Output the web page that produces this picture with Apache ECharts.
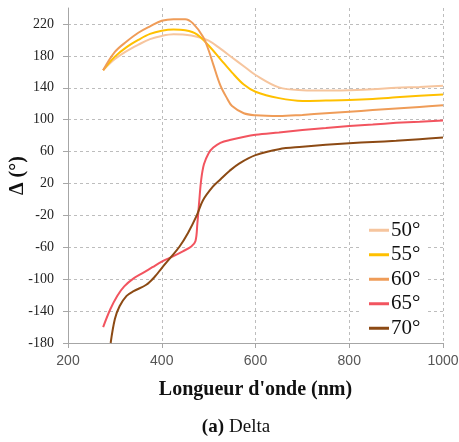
<!DOCTYPE html>
<html>
<head>
<meta charset="utf-8">
<script src="https://cdn.jsdelivr.net/npm/echarts@6/dist/echarts.min.js"></script>
<style>
  html, body { margin: 0; padding: 0; background: #fff; }
  #main { width: 459px; height: 442px; }
</style>
</head>
<body>
<div id="main"></div>
<script>
var legendNames = ['50°', '55°', '60°', '65°', '70°'];
var colors = ['#F6C59E', '#FFC000', '#EF9C58', '#F2545F', '#8C4A14'];
var yTicks = [-180, -140, -100, -60, -20, 20, 60, 100, 140, 180, 220];

var wlA = [275, 300, 325, 350, 375, 400, 425, 450, 475, 500, 525, 550, 575, 600, 650, 700, 750, 800, 850, 900, 950, 1000];
var d50 = [162, 176, 186, 194, 201, 205, 207, 206.5, 204, 199, 189, 178, 167, 156, 140.5, 137, 136.5, 137, 138, 140, 141, 142.5];
var d55 = [162, 179, 191, 200, 207.5, 211.5, 213, 212, 207, 193, 176, 159, 144, 135, 127, 123.5, 124, 124.7, 126, 128, 130, 131.5];

var wl60 = [275, 300, 325, 350, 375, 400, 425, 450, 466, 488, 500, 510, 525, 540, 550, 575, 600, 650, 700, 750, 800, 850, 900, 950, 1000];
var d60 = [162, 185, 198, 209, 217, 224, 226, 226, 221, 204, 187, 169, 143, 126, 117, 108, 105.5, 104.5, 106, 108, 110, 112, 114, 116, 118];

var wl65 = [275, 290, 305, 320, 340, 360, 380, 400, 425, 445, 463, 472, 476, 480, 484, 490, 500, 510, 525, 545, 600, 650, 700, 750, 800, 850, 900, 950, 1000];
var d65 = [-160, -138, -121, -109, -99, -92, -85, -78, -71, -65, -59, -52, -30, -2, 24, 44, 58, 65, 71, 74.5, 81, 84, 87, 89.5, 92, 94, 96, 97.5, 99];

var wl70 = [291, 300, 310, 325, 340, 367, 385, 400, 420, 438, 456, 474, 488, 509, 525, 545, 565, 600, 650, 700, 750, 800, 850, 900, 950, 1000];
var d70 = [-180, -150, -134, -121, -115, -107, -97, -86, -72, -59, -42, -21, -1, 16, 25, 36, 45, 55.5, 63, 66, 68.5, 70.5, 72, 73.5, 75.5, 77.5];

function pairs(xs, ys) {
    return xs.map(function (x, i) { return [x, ys[i]]; });
}

var seriesData = [pairs(wlA, d50), pairs(wlA, d55), pairs(wl60, d60), pairs(wl65, d65), pairs(wl70, d70)];

var myChart = echarts.init(document.getElementById('main'));
var serif = '"Liberation Serif", "DejaVu Serif", serif';

var option = {
    animation: false,
    backgroundColor: '#fff',
    color: colors,
    title: {
        text: '{b|(a)} {r|Delta}',
        left: 236,
        top: 418,
        textAlign: 'center',
        padding: 0,
        textStyle: {
            fontWeight: 'normal',
            rich: {
                b: { fontFamily: serif, fontSize: 19, fontWeight: 'bold', color: '#111' },
                r: { fontFamily: serif, fontSize: 19, fontWeight: 'normal', color: '#111' }
            }
        }
    },
    legend: {
        orient: 'vertical',
        left: 362,
        top: 216,
        padding: [2, 6, 2, 7],
        backgroundColor: '#fff',
        itemGap: 0,
        itemWidth: 20,
        itemHeight: 3,
        icon: 'rect',
        data: legendNames,
        textStyle: { fontFamily: serif, fontSize: 21, color: '#111', lineHeight: 24.5, padding: [0, 0, 0, -3] }
    },
    grid: { left: 68, right: 16, top: 8, bottom: 99, outerBoundsMode: 'none', containLabel: false },
    xAxis: {
        type: 'value',
        min: 200,
        max: 1000,
        interval: 200,
        name: "Longueur d'onde (nm)",
        nameLocation: 'middle',
        nameGap: 37,
        nameMoveOverlap: false,
        nameTextStyle: { fontFamily: serif, fontSize: 20, fontWeight: 'bold', color: '#111' },
        axisLine: { onZero: false, lineStyle: { color: '#a6a6a6', width: 1 } },
        axisTick: { show: true, length: 5, lineStyle: { color: '#a6a6a6' } },
        axisLabel: {
            fontFamily: '"Liberation Sans", Arial, sans-serif', fontSize: 14, color: '#555', margin: 11,
            formatter: function (v) { return String(v); }
        },
        splitLine: { show: true, lineStyle: { color: '#bdbdbd', type: [3, 3], width: 1 } }
    },
    yAxis: {
        type: 'value',
        min: -180,
        max: 240,
        name: 'Δ (°)',
        nameLocation: 'middle',
        nameGap: 40,
        nameRotate: 90,
        nameMoveOverlap: false,
        nameTextStyle: { fontFamily: serif, fontSize: 20, fontWeight: 'bold', color: '#111' },
        axisLine: { show: true, onZero: false, lineStyle: { color: '#a6a6a6', width: 1 } },
        axisTick: { show: true, length: 5, customValues: yTicks, lineStyle: { color: '#a6a6a6' } },
        axisLabel: { customValues: yTicks, fontFamily: serif, fontSize: 14, color: '#222', margin: 14 },
        splitLine: { show: true, customValues: yTicks, lineStyle: { color: '#bdbdbd', type: [3, 3], width: 1 } }
    },
    series: legendNames.map(function (name, i) {
        return {
            name: name,
            type: 'line',
            data: seriesData[i],
            showSymbol: false,
            smooth: 0.35,
            lineStyle: { width: 2, color: colors[i] },
            z: 2 + i
        };
    })
};
myChart.setOption(option);
</script>
</body>
</html>
